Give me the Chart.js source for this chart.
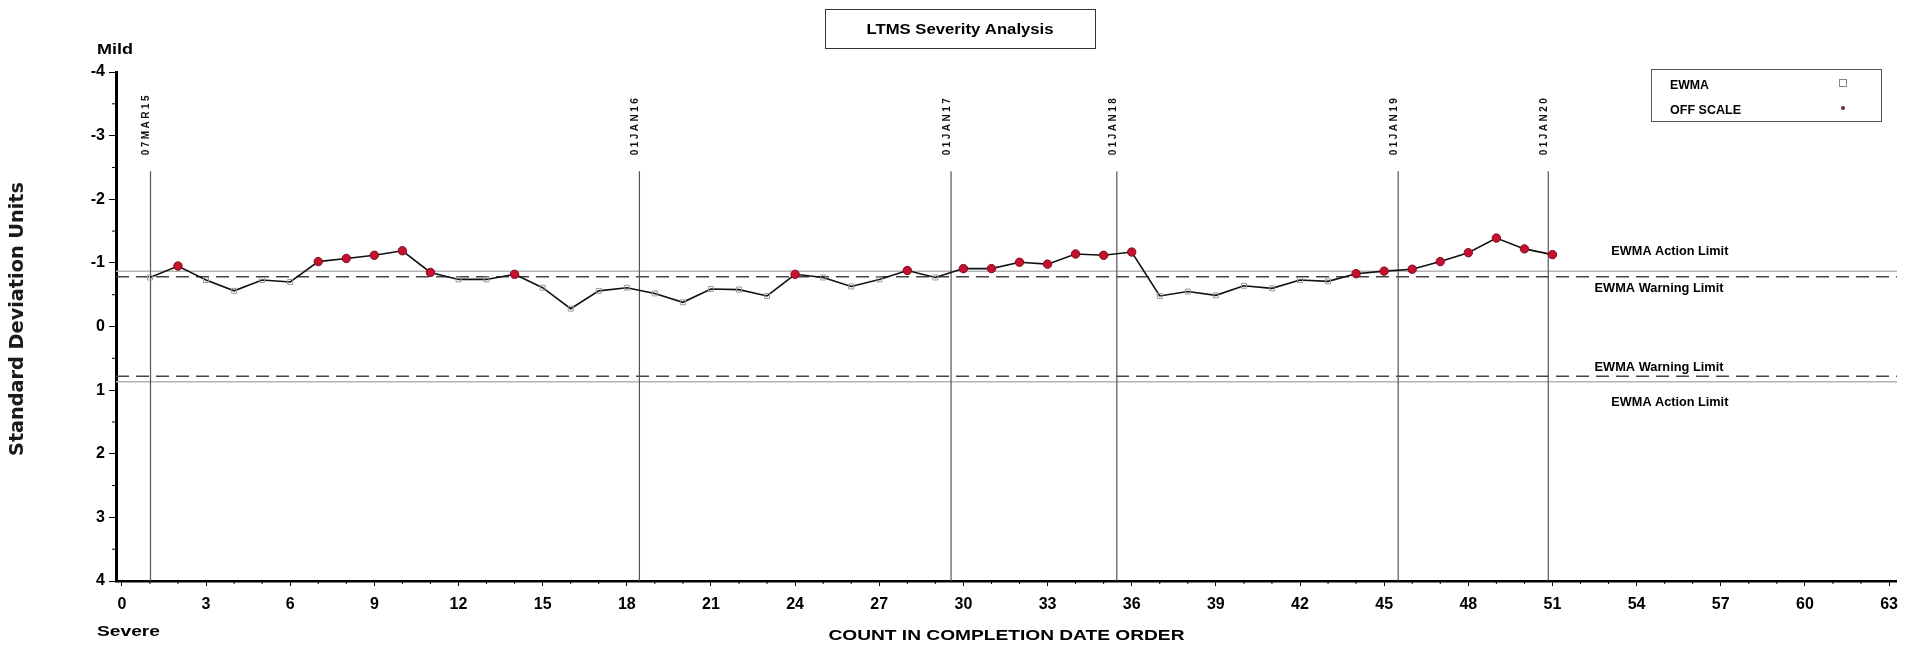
<!DOCTYPE html>
<html>
<head>
<meta charset="utf-8">
<title>LTMS Severity Analysis</title>
<script src="https://cdn.jsdelivr.net/npm/chart.js@4.4.1/dist/chart.umd.min.js"></script>
<style>
  html, body { margin: 0; padding: 0; background: #fff; }
  #wrap { width: 1907px; height: 645px; }
</style>
</head>
<body>
<div id="wrap"><canvas id="chart" width="1907" height="645"></canvas></div>
<script>
// ── Data ───────────────────────────────────────────────────────
const counts = [1,2,3,4,5,6,7,8,9,10,11,12,13,14,15,16,17,18,19,20,21,22,23,24,25,26,
  27,28,29,30,31,32,33,34,35,36,37,38,39,40,41,42,43,44,45,46,47,48,49,50,51];
const ewma = [-0.77,-0.95,-0.73,-0.56,-0.73,-0.70,-1.02,-1.07,-1.12,-1.19,-0.85,-0.74,-0.74,
  -0.82,-0.61,-0.28,-0.56,-0.61,-0.52,-0.38,-0.59,-0.58,-0.48,-0.82,-0.77,-0.63,-0.74,-0.88,
  -0.77,-0.91,-0.91,-1.01,-0.98,-1.14,-1.12,-1.17,-0.48,-0.55,-0.49,-0.64,-0.60,-0.73,-0.71,
  -0.83,-0.87,-0.90,-1.02,-1.16,-1.39,-1.22,-1.13];
const offScale = [2,7,8,9,10,11,14,24,28,30,31,32,33,34,35,36,44,45,46,47,48,49,50,51];

const dateLabels = ['07MAR15','01JAN16','01JAN17','01JAN18','01JAN19','01JAN20'];
const datePos    = [1.02, 18.45, 29.56, 35.47, 45.5, 50.85];

const actionLimit  = 0.87;
const warningLimit = 0.78;

const xTicks = [0,3,6,9,12,15,18,21,24,27,30,33,36,39,42,45,48,51,54,57,60,63];
const yTicks = [-4,-3,-2,-1,0,1,2,3,4];

const FONT = '"Liberation Sans", Arial, sans-serif';

// ── Helpers ────────────────────────────────────────────────────
// draw text squeezed/stretched to a given width
function fitText(ctx, text, x, y, w, font, align) {
  ctx.font = font;
  const m = ctx.measureText(text).width;
  ctx.save();
  ctx.translate(x, y);
  ctx.scale(w / m, 1);
  ctx.textAlign = 'left';
  ctx.fillText(text, align === 'center' ? -m / 2 : 0, 0);
  ctx.restore();
}

const isOff = c => offScale.includes(counts[c.dataIndex]);

// ── Reference lines (behind the data) ─────────────────────────
const refLines = {
  id: 'refLines',
  beforeDatasetsDraw(chart) {
    const { ctx, chartArea: a, scales: { x, y } } = chart;
    ctx.save();
    // limits
    const hline = (v, color, dash) => {
      ctx.beginPath();
      ctx.setLineDash(dash);
      ctx.strokeStyle = color;
      ctx.lineWidth = 1.5;
      ctx.moveTo(a.left, y.getPixelForValue(v));
      ctx.lineTo(a.right, y.getPixelForValue(v));
      ctx.stroke();
    };
    hline(-actionLimit, '#b4b4b4', []);
    hline(actionLimit, '#b4b4b4', []);
    hline(-warningLimit, '#444', [13, 7]);
    hline(warningLimit, '#444', [13, 7]);
    ctx.setLineDash([]);

    // date lines + labels
    const top = y.getPixelForValue(-2.44);
    const lblBottom = y.getPixelForValue(-2.69);
    datePos.forEach((d, i) => {
      const px = x.getPixelForValue(d);
      ctx.beginPath();
      ctx.strokeStyle = '#555';
      ctx.lineWidth = 1.2;
      ctx.moveTo(px, top);
      ctx.lineTo(px, a.bottom);
      ctx.stroke();

      ctx.save();
      ctx.translate(px - 4, lblBottom);
      ctx.rotate(-Math.PI / 2);
      ctx.font = 'bold 10px ' + FONT;
      ctx.letterSpacing = '2.5px';
      ctx.fillStyle = '#111';
      ctx.textAlign = 'left';
      ctx.textBaseline = 'middle';
      ctx.fillText(dateLabels[i], 0, 0);
      ctx.restore();
    });
    ctx.restore();
  }
};

// ── Minor ticks, titles, legend, limit labels ─────────────────
const decorations = {
  id: 'decorations',
  afterDraw(chart) {
    const { ctx, chartArea: a, scales: { x, y } } = chart;
    ctx.save();
    ctx.strokeStyle = '#000';
    ctx.lineWidth = 1;
    // minor ticks
    for (let v = 1; v < 63; v++) {
      if (v % 3 === 0) continue;
      const px = x.getPixelForValue(v);
      ctx.beginPath(); ctx.moveTo(px, a.bottom); ctx.lineTo(px, a.bottom + 3); ctx.stroke();
    }
    for (let v = -3.5; v < 4; v += 1) {
      const py = y.getPixelForValue(v);
      ctx.beginPath(); ctx.moveTo(a.left - 4, py); ctx.lineTo(a.left, py); ctx.stroke();
    }

    ctx.fillStyle = '#000';
    ctx.textBaseline = 'middle';

    // title box
    ctx.strokeStyle = '#333';
    ctx.lineWidth = 1;
    ctx.strokeRect(825.5, 9.5, 270, 39);
    fitText(ctx, 'LTMS Severity Analysis', 960, 30, 187, 'bold 14px ' + FONT, 'center');

    // Mild / Severe
    fitText(ctx, 'Mild', 97, 50, 36, 'bold 15px ' + FONT);
    fitText(ctx, 'Severe', 97, 632, 63, 'bold 15px ' + FONT);

    // x title
    fitText(ctx, 'COUNT IN COMPLETION DATE ORDER', (a.left + a.right) / 2, 636, 356, 'bold 14px ' + FONT, 'center');

    // y title
    ctx.save();
    ctx.translate(18, 319);
    ctx.rotate(-Math.PI / 2);
    ctx.fillStyle = '#1a1a1a';
    fitText(ctx, 'Standard Deviation Units', 0, 0, 274, 'bold 19px "DejaVu Sans Condensed", "Liberation Sans Narrow", sans-serif', 'center');
    ctx.restore();

    // legend
    ctx.strokeStyle = '#555';
    ctx.strokeRect(1651.5, 69.5, 230, 52);
    fitText(ctx, 'EWMA', 1670, 86, 39, 'bold 12px ' + FONT);
    fitText(ctx, 'OFF SCALE', 1670, 111, 71, 'bold 12px ' + FONT);
    ctx.strokeStyle = '#888';
    ctx.strokeRect(1839.5, 79.5, 7, 7);
    ctx.fillStyle = '#6b2a35';
    ctx.beginPath(); ctx.arc(1843, 108, 2, 0, Math.PI * 2); ctx.fill();

    // limit labels
    ctx.fillStyle = '#000';
    fitText(ctx, 'EWMA Action Limit', x.getPixelForValue(53.1), y.getPixelForValue(-1.17), 117, 'bold 12px ' + FONT);
    fitText(ctx, 'EWMA Warning Limit', x.getPixelForValue(52.5), y.getPixelForValue(-0.6), 129, 'bold 12px ' + FONT);
    fitText(ctx, 'EWMA Warning Limit', x.getPixelForValue(52.5), y.getPixelForValue(0.65), 129, 'bold 12px ' + FONT);
    fitText(ctx, 'EWMA Action Limit', x.getPixelForValue(53.1), y.getPixelForValue(1.2), 117, 'bold 12px ' + FONT);
    ctx.restore();
  }
};

// ── Chart ──────────────────────────────────────────────────────
new Chart(document.getElementById('chart'), {
  type: 'line',
  data: {
    datasets: [{
      label: 'EWMA',
      data: counts.map((c, i) => ({ x: c, y: ewma[i] })),
      borderColor: '#111',
      borderWidth: 1.6,
      tension: 0,
      pointStyle: c => isOff(c) ? 'circle' : 'rect',
      pointRadius: c => isOff(c) ? 4.2 : 3.5,
      pointBackgroundColor: c => isOff(c) ? '#c8102e' : 'rgba(255,255,255,0)',
      pointBorderColor: c => isOff(c) ? '#7a0c1c' : '#9a9a9a',
      pointBorderWidth: 1,
    }]
  },
  options: {
    responsive: false,
    animation: false,
    layout: { padding: { top: 72, right: 8, left: 0, bottom: 0 } },
    plugins: { legend: { display: false }, tooltip: { enabled: false } },
    scales: {
      x: {
        type: 'linear',
        min: -0.21, max: 63.28,
        afterBuildTicks: s => { s.ticks = xTicks.map(v => ({ value: v })); },
        afterFit: s => { s.height = 64; },
        grid: { drawOnChartArea: false, drawTicks: true, tickLength: 5, color: '#000' },
        border: { display: true, color: '#000', width: 2.5 },
        ticks: { color: '#000', font: { family: FONT, size: 16, weight: 'bold' }, padding: 9, maxRotation: 0 }
      },
      y: {
        type: 'linear',
        reverse: true,
        min: -4, max: 4,
        afterBuildTicks: s => { s.ticks = yTicks.map(v => ({ value: v })); },
        afterFit: s => { s.width = 116; },
        grid: { drawOnChartArea: false, drawTicks: true, tickLength: 7, color: '#000' },
        border: { display: true, color: '#000', width: 3 },
        ticks: { color: '#000', font: { family: FONT, size: 16, weight: 'bold' }, padding: 4,
                 callback: v => String(v) }
      }
    }
  },
  plugins: [refLines, decorations]
});
</script>
</body>
</html>
